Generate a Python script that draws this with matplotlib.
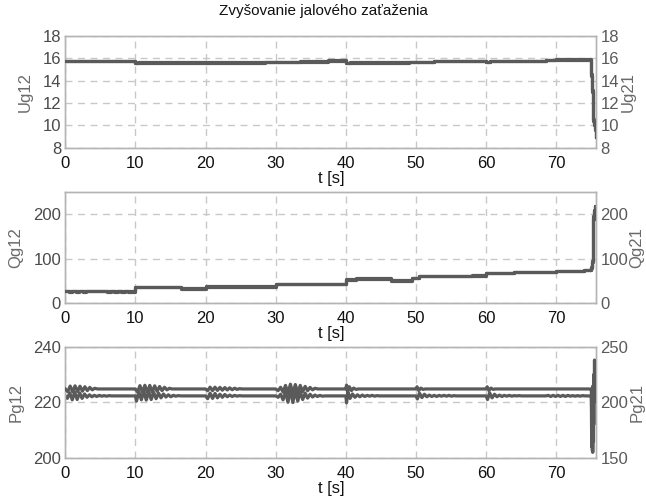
import matplotlib
matplotlib.use('Agg')
import matplotlib.pyplot as plt

plt.rcParams['font.family'] = ['Liberation Sans', 'DejaVu Sans']

# ── Colours ──────────────────────────────────────────────────────────────
LINE = '#5a5a5a'
SPINE = '#b4b4b4'
GRID = '#c8c8c8'
TICK_X = '#111111'
TICK_Y = '#4a4a4a'
LABEL = '#6a6a6a'

# ── Data: voltages (steps) ───────────────────────────────────────────────
t_u = [0, 10, 10.4, 20, 20.4, 28.5, 30, 33.5, 37.5, 40, 40.6, 49, 52.5, 60, 60.5,
       68.5, 70, 74.9, 75.0, 75.1, 75.2, 75.3, 75.4, 75.5, 75.6]
ug12 = [15.8, 15.55, 15.65, 15.55, 15.65, 15.72, 15.68, 15.75, 15.82, 15.55, 15.65,
        15.72, 15.8, 15.65, 15.8, 15.88, 15.92, 15.85, 14.6, 13.2, 12.0, 10.6, 10.2, 9.8, 9.1]
ug21 = [15.78, 15.6, 15.62, 15.6, 15.62, 15.68, 15.7, 15.65, 15.8, 15.6, 15.62,
        15.66, 15.78, 15.7, 15.78, 15.85, 15.9, 15.88, 14.4, 13.0, 11.8, 10.4, 10.0, 9.6, 9.0]

# ── Data: reactive power (steps) ─────────────────────────────────────────
t_q = [0, 0.5, 1.0, 1.5, 2.0, 2.5, 3.0, 5.5, 6.0, 6.5, 7.0, 7.5, 8.0, 8.5, 9.0,
       10, 16.5, 20, 20.5, 30, 30.5, 40, 41.5, 46.5, 49.5, 50.5, 58, 60, 64, 70,
       74, 75.0, 75.1, 75.2, 75.3, 75.4, 75.5, 75.55, 75.6]
qg12 = [28, 28, 28, 28, 28, 28, 28, 28, 28, 28, 28, 28, 28, 28, 28,
        37, 33, 38, 37, 42, 43, 52, 55, 50, 57, 60, 63, 68, 71, 73,
        75, 82, 92, 160, 195, 210, 218, 200, 215]
qg21 = [27, 24, 27, 24, 27, 24, 27, 27, 24, 27, 24, 27, 24, 27, 25,
        36, 32, 36, 38, 43, 44, 54, 56, 51, 56, 61, 62, 67, 70, 72,
        74, 80, 95, 150, 190, 205, 212, 190, 208]

# ── Data: active power ───────────────────────────────────────────────────
t_p12 = [0.0, 0.3, 0.65, 1.0, 1.35, 1.7, 2.05, 2.4, 2.75, 3.1, 3.45, 3.8, 4.15, 4.5,
         4.85, 5.2, 5.55, 5.9, 6.25, 6.6, 7.0, 9.9,
         10.0, 10.15, 10.5, 10.85, 11.2, 11.55, 11.9, 12.25, 12.6, 12.95, 13.3, 13.65,
         14.0, 14.35, 14.7, 15.05, 15.4, 15.75, 16.1, 16.5, 19.9,
         20.0, 20.3, 20.65, 21.0, 21.35, 21.7, 22.05, 22.4, 22.75, 23.1, 23.45, 23.8,
         24.15, 24.5, 24.85, 25.2, 29.9,
         30.0, 30.35, 30.7, 31.05, 31.4, 31.75, 32.1, 32.45, 32.8, 33.15, 33.5, 33.85,
         34.2, 34.55, 34.9, 35.25, 35.6, 35.95, 36.3, 36.65, 37.0, 39.9,
         40.0, 40.1, 40.3, 40.6, 40.95, 41.3, 41.65, 42.0, 42.35, 42.7, 43.05, 43.4,
         43.75, 44.1, 44.45, 44.8, 49.9,
         50.0, 50.2, 50.5, 50.85, 51.2, 51.55, 51.9, 52.25, 52.6, 52.95, 53.3, 53.65,
         54.0, 54.35, 54.7, 55.05, 55.4, 55.75, 59.9,
         60.0, 60.2, 60.5, 60.85, 61.2, 61.55, 61.9, 62.25, 62.6, 62.95, 63.3, 63.65,
         64.0, 64.35, 64.7, 65.05, 68.5,
         68.85, 69.2, 69.55, 69.9, 70.25, 70.6, 70.95, 71.3, 71.65, 72.0, 72.35, 72.7,
         73.05, 73.4, 73.75, 74.1, 74.9,
         75.0, 75.05, 75.1, 75.15, 75.2, 75.25, 75.3, 75.35, 75.4, 75.5]
pg12 = [222.3, 221.4, 223.4, 220.9, 223.6, 221.0, 223.4, 221.4, 223.0, 221.8, 222.7, 222.0, 222.5, 222.1,
        222.5, 222.2, 222.4, 222.2, 222.4, 222.3, 222.3, 222.3,
        222.3, 220.4, 223.8, 220.9, 224.0, 220.8, 223.9, 221.0, 223.6, 221.3, 223.3, 221.6,
        223.0, 221.9, 222.7, 222.0, 222.5, 222.2, 222.4, 222.3, 222.3,
        222.3, 221.3, 223.3, 221.4, 223.2, 221.6, 222.9, 221.8, 222.8, 222.0, 222.6, 222.1,
        222.5, 222.2, 222.4, 222.3, 222.3,
        222.3, 221.8, 222.9, 220.9, 223.8, 220.0, 224.6, 219.9, 224.3, 220.4, 223.8, 221.0,
        223.3, 221.5, 222.9, 221.9, 222.6, 222.1, 222.5, 222.2, 222.3, 222.3,
        222.3, 219.8, 223.6, 221.4, 223.0, 221.8, 222.7, 222.0, 222.6, 222.1, 222.5, 222.2,
        222.5, 222.2, 222.4, 222.3, 222.3,
        222.3, 221.2, 223.3, 221.7, 222.9, 222.0, 222.6, 222.1, 222.5, 222.1, 222.5, 222.2,
        222.5, 222.2, 222.5, 222.2, 222.4, 222.3, 222.3,
        222.3, 221.0, 223.4, 221.6, 222.9, 222.0, 222.6, 222.1, 222.5, 222.2, 222.5, 222.2,
        222.4, 222.3, 222.4, 222.3, 222.3,
        222.5, 222.1, 222.5, 222.1, 222.5, 222.1, 222.5, 222.1, 222.5, 222.2, 222.4, 222.2,
        222.4, 222.2, 222.4, 222.3, 222.3,
        221.5, 204.0, 210.0, 202.5, 215.0, 206.0, 220.0, 212.0, 223.0, 222.8]

t_p21 = [0.0, 0.35, 0.7, 1.05, 1.4, 1.75, 2.1, 2.45, 2.8, 3.15, 3.5, 3.85, 4.2, 4.6, 9.9,
         10.0, 10.3, 10.65, 11.0, 11.35, 11.7, 12.05, 12.4, 12.75, 13.1, 13.45, 13.8,
         14.15, 14.5, 14.85, 15.2, 19.9,
         20.0, 20.3, 20.65, 21.0, 21.35, 21.7, 22.05, 22.4, 22.75, 23.1, 23.45, 23.8,
         24.15, 24.5, 24.85, 25.2, 29.9,
         30.0, 30.35, 30.7, 31.05, 31.4, 31.75, 32.1, 32.45, 32.8, 33.15, 33.5, 33.85,
         34.2, 34.55, 34.9, 35.25, 35.6, 36.0, 39.9,
         40.0, 40.1, 40.25, 40.5, 40.8, 41.1, 41.45, 41.8, 49.9,
         50.0, 50.15, 50.4, 50.7, 51.0, 51.3, 59.9,
         60.0, 60.15, 60.4, 60.7, 61.0, 61.3, 74.9,
         75.0, 75.1, 75.15, 75.2, 75.25, 75.3, 75.35, 75.4, 75.45, 75.5]
pg21 = [212, 209.6, 214.6, 209.4, 214.8, 209.6, 214.5, 210.0, 214.0, 210.5, 213.4, 211.2, 212.6, 212, 212,
        212, 209.3, 215.0, 209.0, 215.3, 209.0, 215.2, 209.3, 214.8, 209.8, 214.2, 210.5,
        213.5, 211.2, 212.6, 212, 212,
        212, 210.5, 213.6, 210.5, 213.6, 210.7, 213.4, 210.9, 213.2, 211.1, 213.0, 211.3,
        212.7, 211.6, 212.3, 212, 212,
        212, 210.5, 213.5, 209.2, 215.2, 208.3, 216.3, 208.0, 216.0, 208.6, 215.2, 209.5,
        214.3, 210.4, 213.4, 211.2, 212.6, 212, 212,
        212, 215.5, 209.5, 214.0, 210.5, 212.8, 211.6, 212, 212,
        212, 214.0, 210.6, 212.8, 211.6, 212, 212,
        212, 214.0, 210.6, 212.8, 211.6, 212, 212,
        211.5, 160, 200, 155, 215, 165, 225, 200, 238, 210]

# ── Figure ───────────────────────────────────────────────────────────────
fig = plt.figure(figsize=(6.46, 5.01), dpi=100, facecolor='white')

x0, w = 0.101, 0.822
panels = [
    (0.705, 0.223, t_u, ug12, t_u, ug21, (8, 18), [8, 10, 12, 14, 16, 18],
     (8, 18), [8, 10, 12, 14, 16, 18], 'Ug12', 'Ug21', 'steps-post'),
    (0.395, 0.222, t_q, qg12, t_q, qg21, (0, 250), [0, 100, 200],
     (0, 250), [0, 100, 200], 'Qg12', 'Qg21', 'steps-post'),
    (0.086, 0.222, t_p12, pg12, t_p21, pg21, (200, 240), [200, 220, 240],
     (150, 250), [150, 200, 250], 'Pg12', 'Pg21', 'default'),
]

for (y0, h, ta, ya, tb, yb, lim_l, ticks_l, lim_r, ticks_r,
     lab_l, lab_r, ds) in panels:
    ax = fig.add_axes([x0, y0, w, h])
    ax2 = ax.twinx()
    ax.plot(ta, ya, color=LINE, linewidth=2.3, drawstyle=ds, zorder=3)
    ax2.plot(tb, yb, color=LINE, linewidth=2.3, drawstyle=ds, zorder=3)

    ax.set_xlim(0, 75.7)
    ax.set_xticks(range(0, 80, 10))
    ax.set_ylim(*lim_l)
    ax.set_yticks(ticks_l)
    ax2.set_ylim(*lim_r)
    ax2.set_yticks(ticks_r)

    ax.grid(True, color=GRID, linestyle=(0, (5, 4)), linewidth=1.0)
    ax.set_axisbelow(True)

    ax.tick_params(axis='x', length=0, labelsize=12, labelcolor=TICK_X, pad=6)
    ax.tick_params(axis='y', length=0, labelsize=12, labelcolor=TICK_Y, pad=3)
    ax2.tick_params(axis='y', length=0, labelsize=12, labelcolor='#5a5a5a', pad=3)

    for a in (ax, ax2):
        for s in a.spines.values():
            s.set_color(SPINE)
            s.set_linewidth(1.0)

    ax.set_xlabel('t [s]', fontsize=12, color=TICK_X, labelpad=0)
    ax.set_ylabel(lab_l, fontsize=12, color=LABEL, labelpad=7)
    ax2.set_ylabel(lab_r, fontsize=12, color=LABEL, labelpad=1)

fig.text(0.5, 0.978, 'Zvyšovanie jalového zaťaženia', ha='center', va='center',
         fontsize=11, color='#111111')

fig.savefig('out.png', dpi=100, facecolor='white')
